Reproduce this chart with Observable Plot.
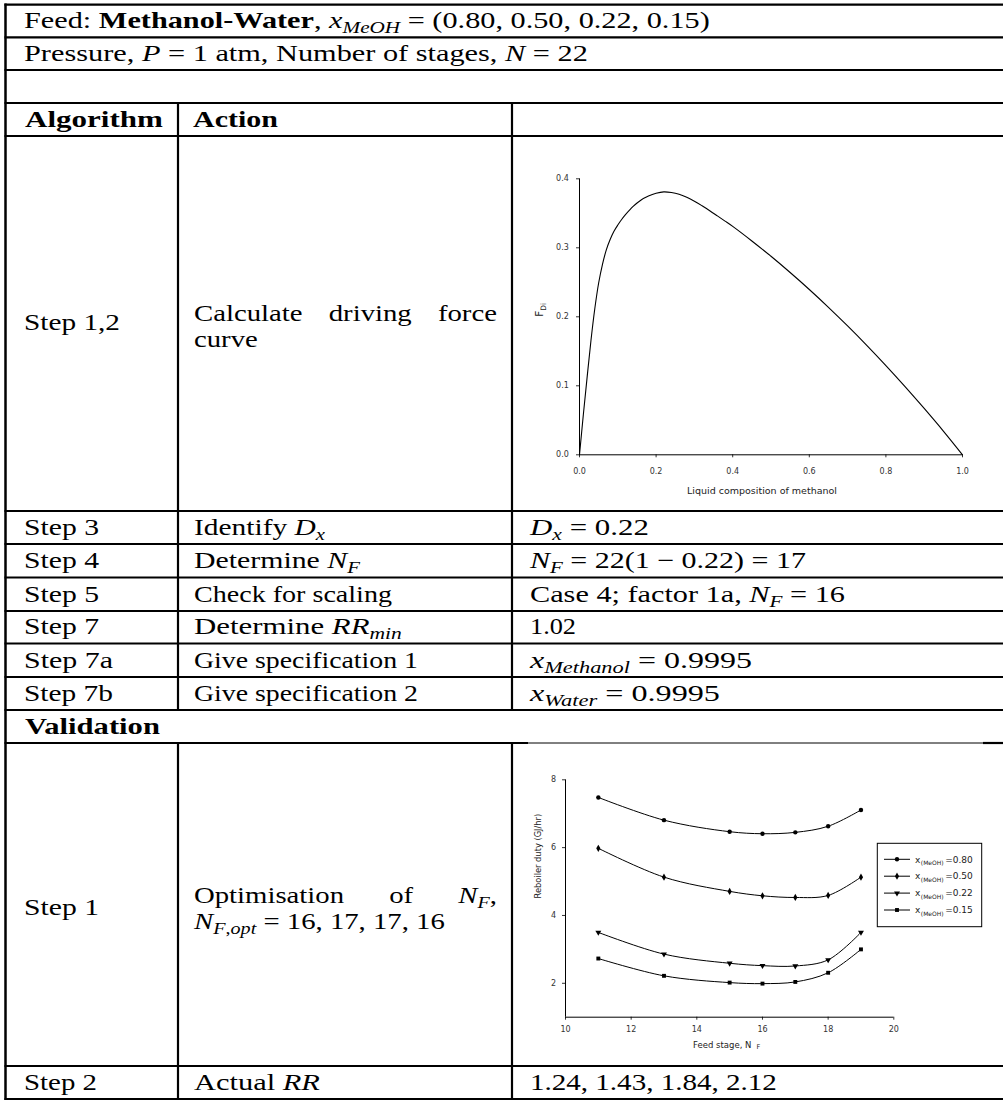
<!DOCTYPE html>
<html>
<head>
<meta charset="utf-8">
<script src="https://cdn.jsdelivr.net/npm/d3@7"></script>
<script src="https://cdn.jsdelivr.net/npm/@observablehq/plot@0.6"></script>
<style>
  html, body { margin: 0; padding: 0; background: #fff; }
  #root { position: relative; width: 1003px; height: 1100px; overflow: hidden; background: #fff; }
  .abs { position: absolute; }
</style>
</head>
<body>
<div id="root"></div>
<script>
// ---------------- DATA ----------------
// Driving-force curve (liquid composition of methanol vs F_Di)
const dfComposition = [0, 0.01, 0.02, 0.03, 0.04, 0.05, 0.06, 0.07, 0.08, 0.09, 0.10, 0.11, 0.12, 0.14, 0.16, 0.18, 0.20, 0.22, 0.24, 0.26, 0.28, 0.30, 0.32, 0.34, 0.36, 0.38, 0.40, 0.45, 0.50, 0.55, 0.60, 0.65, 0.70, 0.75, 0.80, 0.85, 0.90, 0.95, 1.00];
const dfForce       = [0, 0.058, 0.113, 0.166, 0.212, 0.249, 0.276, 0.297, 0.312, 0.324, 0.333, 0.341, 0.348, 0.360, 0.369, 0.375, 0.379, 0.381, 0.3801, 0.3775, 0.3731, 0.3675, 0.3609, 0.3538, 0.3463, 0.3387, 0.331, 0.3099, 0.2877, 0.2642, 0.2396, 0.2138, 0.1868, 0.1587, 0.1294, 0.0989, 0.0672, 0.0344, 0];
const dfXTicks = [0, 0.2, 0.4, 0.6, 0.8, 1.0];
const dfYTicks = [0, 0.1, 0.2, 0.3, 0.4];
const dfXLabel = "Liquid composition of methanol";

// Reboiler duty vs feed stage
const feedStages = [11, 13, 15, 16, 17, 18, 19];
const duty080 = [7.48, 6.81, 6.47, 6.41, 6.45, 6.63, 7.11];
const duty050 = [5.98, 5.13, 4.71, 4.58, 4.53, 4.59, 5.13];
const duty022 = [3.50, 2.86, 2.59, 2.52, 2.51, 2.69, 3.50];
const duty015 = [2.73, 2.22, 2.02, 1.99, 2.04, 2.31, 3.00];
const feedCompositions = ["0.80", "0.50", "0.22", "0.15"];
const dutyXTicks = [10, 12, 14, 16, 18, 20];
const dutyYTicks = [2, 4, 6, 8];
const dutyXLabel = "Feed stage, N";
const dutyYLabel = "Reboiler duty (GJ/hr)";

// Table text (segments: n normal, b bold, i italic, si subscript italic, sn subscript normal)
const feedLine = [["Feed: ", "n"], ["Methanol-Water", "b"], [", ", "n"], ["x", "i"], ["MeOH", "si"], [" = (0.80, 0.50, 0.22, 0.15)", "n"]];
const pressureLine = [["Pressure, ", "n"], ["P", "i"], [" = 1 atm, Number of stages, ", "n"], ["N", "i"], [" = 22", "n"]];
const headers = ["Algorithm", "Action"];
const stepLabels = ["Step 1,2", "Step 3", "Step 4", "Step 5", "Step 7", "Step 7a", "Step 7b", "Step 1", "Step 2"];
const actions = [
  null,
  [["Identify ", "n"], ["D", "i"], ["x", "si"]],
  [["Determine ", "n"], ["N", "i"], ["F", "si"]],
  [["Check for scaling", "n"]],
  [["Determine ", "n"], ["RR", "i"], ["min", "si"]],
  [["Give specification 1", "n"]],
  [["Give specification 2", "n"]],
  null,
  [["Actual ", "n"], ["RR", "i"]]
];
const results = [
  null,
  [["D", "i"], ["x", "si"], [" = 0.22", "n"]],
  [["N", "i"], ["F", "si"], [" = 22(1 \u2212 0.22) = 17", "n"]],
  [["Case 4; factor 1a, ", "n"], ["N", "i"], ["F", "si"], [" = 16", "n"]],
  [["1.02", "n"]],
  [["x", "i"], ["Methanol", "si"], [" = 0.9995", "n"]],
  [["x", "i"], ["Water", "si"], [" = 0.9995", "n"]],
  null,
  [["1.24, 1.43, 1.84, 2.12", "n"]]
];
const validationLabel = "Validation";
const dfActionWords = ["Calculate", "driving", "force"];
const dfActionLine2 = "curve";
const optActionWords = [[["Optimisation", "n"]], [["of", "n"]], [["N", "i"], ["F", "si"], [",", "n"]]];
const optActionLine2 = [["N", "i"], ["F", "si"], [",", "sn"], ["opt", "si"], [" = 16, 17, 17, 16", "n"]];

// ---------------- TABLE LAYOUT ----------------
const root = d3.select("#root");
const SERIF = "Liberation Serif, Times New Roman, serif";
const FS = 23;
const SANS = "DejaVu Sans, Liberation Sans, sans-serif";

const tbl = root.append("svg").attr("class", "abs")
  .style("left", "0px").style("top", "0px")
  .attr("width", 1003).attr("height", 1100);

const lw = 2.2;
const hLines = [4.7, 37.3, 70, 103, 136, 511, 544, 577.5, 611, 643.5, 677, 710, 1066, 1099];
hLines.forEach(y => tbl.append("line").attr("x1", 4.5).attr("x2", 1003).attr("y1", y).attr("y2", y).attr("stroke", "#000").attr("stroke-width", lw));
// line above second chart (partly covered by the chart image)
tbl.append("line").attr("x1", 4.5).attr("x2", 528).attr("y1", 743).attr("y2", 743).attr("stroke", "#000").attr("stroke-width", lw);
tbl.append("line").attr("x1", 528).attr("x2", 983).attr("y1", 743).attr("y2", 743).attr("stroke", "#000").attr("stroke-width", 1);
tbl.append("line").attr("x1", 983).attr("x2", 1003).attr("y1", 743).attr("y2", 743).attr("stroke", "#000").attr("stroke-width", lw);
// vertical lines
tbl.append("line").attr("x1", 5.5).attr("x2", 5.5).attr("y1", 3.6).attr("y2", 1100).attr("stroke", "#000").attr("stroke-width", 2.5);
[178, 512].forEach(x => {
  tbl.append("line").attr("x1", x).attr("x2", x).attr("y1", 103).attr("y2", 710).attr("stroke", "#000").attr("stroke-width", lw);
  tbl.append("line").attr("x1", x).attr("x2", x).attr("y1", 743).attr("y2", 1099).attr("stroke", "#000").attr("stroke-width", lw);
});

function rich(segs, opts) {
  const {x = 0, y = 0, width = null, anchor = "start", scale = 1.25, size = FS} = opts || {};
  const g = tbl.append("g");
  const t = g.append("text").attr("font-family", SERIF).attr("font-size", size).attr("fill", "#000")
    .attr("text-anchor", "start").style("white-space", "pre");
  let cur = 0;
  for (const [s, st] of segs) {
    const ts = t.append("tspan").text(s);
    const sub = st.startsWith("s");
    const target = sub ? size * 0.22 : 0;
    if (target !== cur) { ts.attr("dy", target - cur); cur = target; }
    if (sub) ts.attr("font-size", size * 0.7);
    if (st.includes("b")) ts.attr("font-weight", "bold");
    if (st.endsWith("i")) ts.attr("font-style", "italic");
  }
  const w = t.node().getComputedTextLength();
  const k = width ? width / w : scale;
  const w2 = w * k;
  const obj = {
    g, w: w2, k,
    place(px, py) {
      const x0 = anchor === "end" ? px - w2 : anchor === "middle" ? px - w2 / 2 : px;
      g.attr("transform", `translate(${x0},${py}) scale(${k},1)`);
    }
  };
  obj.place(x, y);
  return obj;
}

// Header rows
rich(feedLine, {x: 24, y: 28, width: 686});
rich(pressureLine, {x: 24, y: 60.5, width: 564});
rich([[headers[0], "b"]], {x: 25, y: 126.5, width: 138});
rich([[headers[1], "b"]], {x: 193, y: 126.5, width: 85});

// Simple rows
const rowBaselines = [330, 534.5, 568, 601.5, 634, 667.5, 700.5, 915, 1089.5];
const stepWidths = [96, 75, 75, 75, 75, 89, 89, 75, 73];
const actionWidths = [null, 131, 166, 198, 208, 224, 224, null, 126];
const resultWidths = [null, 119, 276, 315, 46, 222, 190, null, 247];
stepLabels.forEach((s, i) => {
  const y = rowBaselines[i];
  rich([[s, "n"]], {x: 24, y, width: stepWidths[i]});
  if (actions[i]) rich(actions[i], {x: 194, y, width: actionWidths[i]});
  if (results[i]) rich(results[i], {x: 530, y, width: resultWidths[i]});
});
rich([[validationLabel, "b"]], {x: 25, y: 733.5, width: 135});

// Justified multi-line action texts
function justify(wordSegs, y, x0, x1) {
  const items = wordSegs.map(ws => rich(ws, {x: 0, y}));
  const total = items.reduce((a, b) => a + b.w, 0);
  const gap = (x1 - x0 - total) / (items.length - 1);
  let x = x0;
  items.forEach(it => { it.place(x, y); x += it.w + gap; });
}
justify(dfActionWords.map(w => [[w, "n"]]), 321, 194, 497);
rich([[dfActionLine2, "n"]], {x: 194, y: 347});
justify(optActionWords, 903, 194, 497);
rich(optActionLine2, {x: 194, y: 929});

// ---------------- CHART 1: driving force ----------------
const dfRows = dfComposition.map((x, i) => ({x, fd: dfForce[i]}));
const chart1 = Plot.plot({
  width: 470, height: 355,
  marginLeft: 59, marginRight: 28, marginTop: 28.3, marginBottom: 50.7,
  style: {fontFamily: SANS, fontSize: "8px", color: "#333", background: "transparent", overflow: "visible"},
  x: {domain: [0, 1], ticks: dfXTicks, tickFormat: d3.format(".1f"), tickSize: 3, tickPadding: 10.5, label: null},
  y: {domain: [0, 0.4], ticks: dfYTicks, tickFormat: d3.format(".1f"), tickSize: 3, tickPadding: 7.7, label: null},
  marks: [
    Plot.ruleX([0], {stroke: "#000", strokeWidth: 1}),
    Plot.ruleY([0], {stroke: "#000", strokeWidth: 1}),
    Plot.line(dfRows, {x: "x", y: "fd", curve: "catmull-rom", stroke: "#000", strokeWidth: 1.1}),
    Plot.text([dfXLabel], {text: d => d, frameAnchor: "bottom", dy: 39, dx: -9, fontSize: 9.5, fill: "#222"}),
    Plot.text(["F"], {text: d => d, frameAnchor: "left", dx: -40, rotate: -90, fontSize: 10.5, fill: "#222"})
  ]
});
d3.select(chart1).selectAll("text").filter(function() { return this.textContent === "F"; })
  .append("tspan").attr("dy", 3).attr("font-size", 7.5).text("Di");
const c1 = root.append("div").attr("class", "abs").style("left", "520px").style("top", "150px");
c1.node().appendChild(chart1);

// ---------------- CHART 2: reboiler duty ----------------
const triangleDown = {
  draw(ctx, size) {
    const y = -Math.sqrt(size / (Math.sqrt(3) * 3));
    ctx.moveTo(0, -y * 2);
    ctx.lineTo(-Math.sqrt(3) * y, y);
    ctx.lineTo(Math.sqrt(3) * y, y);
    ctx.closePath();
  }
};
const seriesValues = [duty080, duty050, duty022, duty015];
const seriesSymbols = [d3.symbolCircle, d3.symbolDiamond, triangleDown, d3.symbolSquare];
const dutyRows = feedCompositions.flatMap((name, j) => feedStages.map((st, i) => ({stage: st, duty: seriesValues[j][i], series: name})));

const chart2 = Plot.plot({
  width: 480, height: 295,
  marginLeft: 50, marginRight: 101.7, marginTop: 14.3, marginBottom: 43.3,
  style: {fontFamily: SANS, fontSize: "8px", color: "#333", background: "transparent", overflow: "visible"},
  x: {domain: [10, 20], ticks: dutyXTicks, tickFormat: d3.format("d"), tickSize: 3, tickPadding: 6, label: null},
  y: {domain: [1, 8], ticks: dutyYTicks, tickFormat: d3.format("d"), tickSize: 3, tickPadding: 6.3, label: null},
  marks: [
    Plot.ruleX([10], {stroke: "#000", strokeWidth: 1}),
    Plot.ruleY([1], {stroke: "#000", strokeWidth: 1}),
    Plot.line(dutyRows, {x: "stage", y: "duty", z: "series", curve: "catmull-rom", stroke: "#000", strokeWidth: 1}),
    ...feedCompositions.map((name, j) => Plot.dot(dutyRows.filter(d => d.series === name), {x: "stage", y: "duty", symbol: seriesSymbols[j], r: 2.2, fill: "#000", stroke: "none"})),
    Plot.text([dutyYLabel], {text: d => d, frameAnchor: "left", dx: -26.7, rotate: -90, fontSize: 8.3, fill: "#222"}),
    Plot.text([dutyXLabel], {text: d => d, frameAnchor: "bottom", dy: 30.6, dx: -3, fontSize: 8.5, fill: "#222"})
  ]
});
d3.select(chart2).selectAll("text").filter(function() { return this.textContent === dutyXLabel; })
  .append("tspan").attr("dx", 5).attr("dy", 1.5).attr("font-size", 6.5).text("F");

// legend
const lg = d3.select(chart2).append("g").attr("font-family", SANS).attr("fill", "#222").attr("text-anchor", "start");
lg.append("rect").attr("x", 362.3).attr("y", 78.3).attr("width", 104.4).attr("height", 83.4).attr("fill", "#fff").attr("stroke", "#000").attr("stroke-width", 1);
feedCompositions.forEach((name, j) => {
  const cy = 94.3 + j * 16.9;
  lg.append("line").attr("x1", 369).attr("x2", 395).attr("y1", cy).attr("y2", cy).attr("stroke", "#000").attr("stroke-width", 1);
  lg.append("path").attr("transform", `translate(382,${cy})`).attr("d", d3.symbol(seriesSymbols[j], Math.PI * 2.2 * 2.2)()).attr("fill", "#000");
  const t = lg.append("text").attr("x", 400).attr("y", cy + 3.2).attr("font-size", 9).attr("text-anchor", "start").style("white-space", "pre");
  t.append("tspan").text("x");
  t.append("tspan").attr("dx", 0.5).attr("dy", 2.5).attr("font-size", 6).text("(MeOH)");
  t.append("tspan").attr("dx", 1.5).attr("dy", -2.5).text("=" + name);
});
const c2 = root.append("div").attr("class", "abs").style("left", "515px").style("top", "765px");
c2.node().appendChild(chart2);
</script>
</body>
</html>
